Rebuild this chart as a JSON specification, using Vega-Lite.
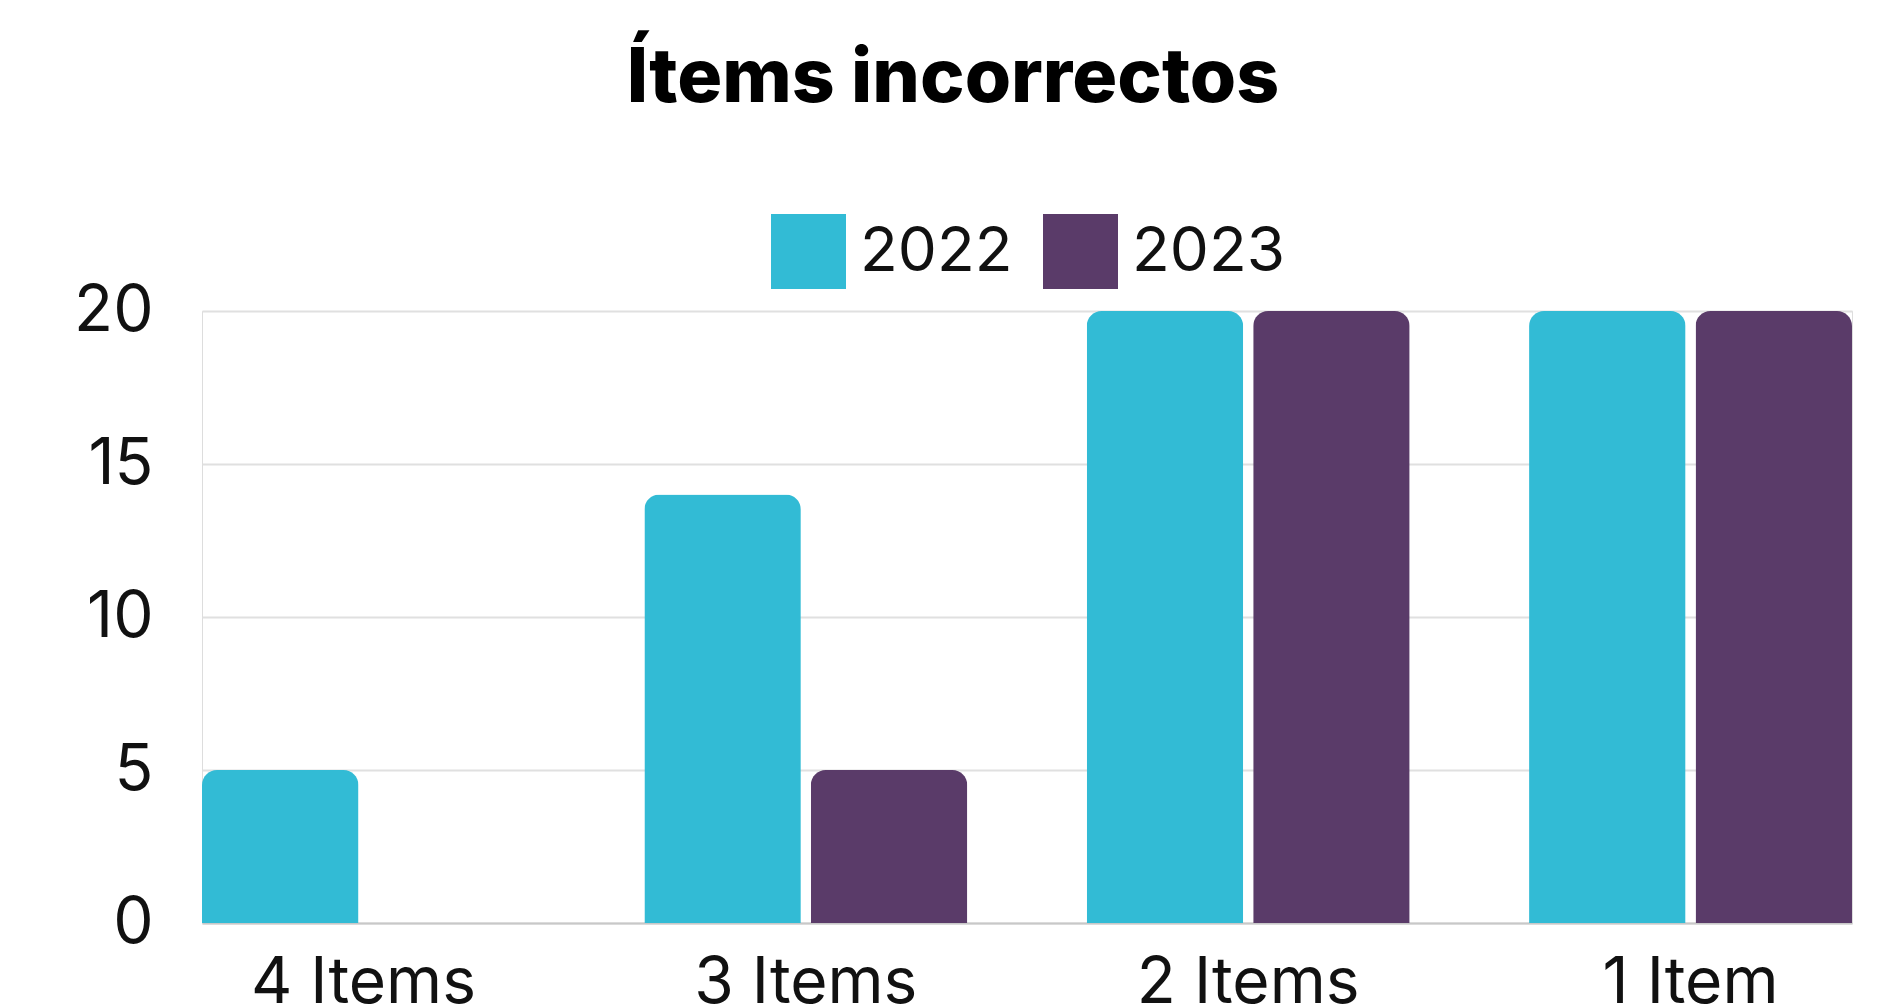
{
  "$schema": "https://vega.github.io/schema/vega-lite/v6.json",
  "autosize": {"type": "none"},
  "width": 1650,
  "height": 612,
  "padding": {"left": 202, "top": 311, "right": 33, "bottom": 85},
  "background": "white",
  "title": {
    "text": "Ítems incorrectos",
    "font": "Inter",
    "fontSize": 75,
    "fontWeight": 800,
    "color": "#000000",
    "anchor": "middle",
    "dx": -74,
    "offset": 96
  },
  "data": {
    "values": [
      {"categoria": "4 Items", "anio": "2022", "valor": 5},
      {"categoria": "4 Items", "anio": "2023", "valor": 0},
      {"categoria": "3 Items", "anio": "2022", "valor": 14},
      {"categoria": "3 Items", "anio": "2023", "valor": 5},
      {"categoria": "2 Items", "anio": "2022", "valor": 20},
      {"categoria": "2 Items", "anio": "2023", "valor": 20},
      {"categoria": "1 Item", "anio": "2022", "valor": 20},
      {"categoria": "1 Item", "anio": "2023", "valor": 20}
    ]
  },
  "mark": {"type": "bar", "cornerRadiusEnd": 15},
  "encoding": {
    "x": {
      "field": "categoria",
      "type": "nominal",
      "sort": null,
      "scale": {"paddingInner": 0.27, "paddingOuter": 0},
      "axis": {
        "title": null,
        "labelAngle": 0,
        "labelFont": "Inter",
        "labelFontSize": 64,
        "labelColor": "#111111",
        "labelPadding": 28,
        "labelLimit": 0,
        "domainColor": "#c8c8c8",
        "domainWidth": 2,
        "ticks": false
      }
    },
    "xOffset": {"field": "anio", "type": "nominal", "scale": {"paddingInner": 0.06}},
    "y": {
      "field": "valor",
      "type": "quantitative",
      "scale": {"domain": [0, 20]},
      "axis": {
        "title": null,
        "values": [0, 5, 10, 15, 20],
        "domain": false,
        "ticks": false,
        "labelFont": "Inter",
        "labelFontSize": 64,
        "labelColor": "#111111",
        "labelPadding": 49,
        "gridColor": "#e0e0e0",
        "gridWidth": 2
      }
    },
    "color": {
      "field": "anio",
      "type": "nominal",
      "scale": {"range": ["#32BBD5", "#5A3B69"]},
      "legend": {
        "orient": "none",
        "legendX": 569,
        "legendY": -97,
        "direction": "horizontal",
        "title": null,
        "symbolType": "square",
        "symbolSize": 5625,
        "symbolStrokeWidth": 0,
        "labelFont": "Inter",
        "labelFontSize": 62,
        "labelColor": "#111111",
        "labelLimit": 0,
        "columnPadding": 30,
        "labelOffset": 14
      }
    }
  }
}
